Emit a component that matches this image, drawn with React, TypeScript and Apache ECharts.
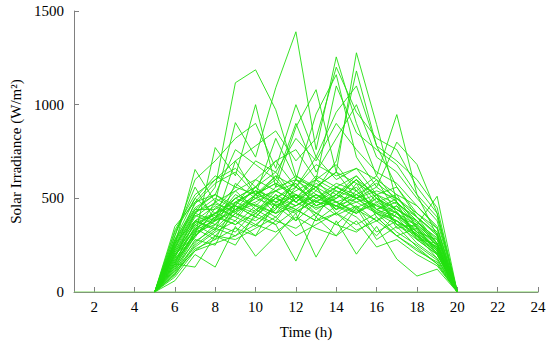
import React, { useEffect, useRef } from "react";
import * as echarts from "echarts";

const HOURS = [5, 6, 7, 8, 9, 10, 11, 12, 13, 14, 15, 16, 17, 18, 19, 20];
const X_TICKS = [2, 4, 6, 8, 10, 12, 14, 16, 18, 20, 22, 24];
const ZERO_LINE_X = [1, 24];

// irradiance (W/m²) at hours 6..19 for each day; 0 at 5 h and 20 h
const day01 = [180, 420, 560, 1117, 1186, 973, 620, 540, 700, 1180, 780, 560, 400, 260];
const day02 = [250, 654, 480, 904, 720, 1090, 1389, 760, 1255, 900, 620, 947, 520, 300];
const day03 = [120, 300, 771, 620, 1000, 560, 880, 1080, 640, 1277, 894, 480, 350, 200];
const day04 = [300, 560, 380, 700, 520, 820, 600, 950, 1160, 720, 560, 800, 681, 420];
const day05 = [90, 250, 330, 420, 380, 450, 520, 480, 560, 500, 430, 380, 300, 180];
const day06 = [200, 360, 420, 480, 540, 440, 600, 560, 500, 600, 480, 420, 360, 511];
const day07 = [150, 133, 300, 250, 420, 360, 165, 400, 300, 450, 280, 350, 240, 150];
const day08 = [350, 480, 520, 440, 560, 640, 500, 600, 680, 540, 620, 480, 380, 260];
const day09 = [60, 200, 133, 350, 191, 300, 420, 186, 380, 202, 350, 176, 85, 122];
const day10 = [220, 400, 480, 540, 440, 500, 580, 460, 520, 600, 440, 500, 400, 300];
const day11 = [160, 350, 420, 380, 520, 600, 480, 560, 420, 500, 600, 420, 300, 240];
const day12 = [280, 500, 620, 560, 700, 640, 820, 700, 900, 760, 640, 580, 460, 340];
const day13 = [110, 280, 250, 460, 400, 520, 380, 600, 480, 420, 520, 360, 280, 200];
const day14 = [240, 420, 380, 500, 560, 460, 520, 400, 560, 500, 420, 460, 340, 250];
const day15 = [130, 320, 480, 420, 360, 440, 600, 520, 440, 580, 400, 300, 340, 220];
const day16 = [210, 380, 330, 580, 500, 620, 480, 560, 640, 500, 560, 480, 280, 260];
const day17 = [80, 220, 300, 280, 340, 400, 300, 360, 420, 330, 380, 300, 220, 160];
const day18 = [270, 440, 520, 760, 680, 600, 900, 640, 820, 1000, 720, 640, 500, 380];
const day19 = [190, 340, 400, 460, 420, 520, 460, 520, 480, 420, 500, 440, 380, 280];
const day20 = [140, 300, 380, 440, 520, 420, 460, 540, 480, 520, 440, 400, 280, 200];
const day21 = [320, 500, 420, 540, 600, 700, 560, 720, 600, 660, 520, 560, 420, 340];
const day22 = [100, 260, 360, 320, 440, 380, 520, 420, 360, 460, 320, 380, 260, 180];
const day23 = [230, 480, 600, 660, 560, 700, 760, 600, 1100, 850, 760, 680, 520, 400];
const day24 = [170, 340, 280, 480, 540, 460, 420, 500, 560, 620, 500, 440, 380, 240];
const day25 = [260, 380, 460, 400, 520, 480, 540, 600, 540, 500, 540, 500, 400, 310];
const day26 = [120, 240, 320, 380, 300, 480, 440, 380, 460, 400, 300, 420, 320, 220];
const day27 = [300, 600, 700, 820, 900, 660, 1000, 720, 960, 1100, 780, 700, 600, 450];
const day28 = [150, 380, 340, 440, 480, 540, 580, 460, 520, 480, 520, 340, 360, 260];
const day29 = [200, 300, 400, 500, 460, 560, 600, 500, 580, 540, 440, 480, 380, 260];
const day30 = [240, 420, 500, 440, 500, 540, 480, 580, 520, 620, 500, 420, 320, 280];
const day31 = [180, 300, 400, 360, 420, 500, 460, 520, 440, 480, 420, 360, 300, 220];
const day32 = [330, 520, 600, 700, 780, 860, 700, 820, 1200, 960, 820, 760, 560, 420];
const day33 = [110, 220, 260, 300, 360, 320, 400, 340, 300, 380, 240, 280, 200, 140];
const day34 = [260, 440, 440, 560, 520, 580, 500, 620, 560, 520, 580, 500, 420, 320];
const day35 = [140, 330, 420, 460, 400, 500, 560, 480, 460, 500, 460, 400, 360, 260];
const day36 = [220, 380, 420, 500, 560, 480, 520, 440, 500, 560, 420, 380, 310, 240];
const day37 = [200, 330, 380, 430, 470, 420, 500, 450, 480, 430, 470, 400, 320, 230];
const day38 = [170, 290, 450, 400, 350, 470, 430, 490, 410, 460, 380, 430, 300, 210];
const day39 = [230, 410, 360, 480, 430, 540, 480, 420, 520, 450, 500, 360, 350, 250];
const day40 = [130, 270, 340, 300, 400, 360, 440, 380, 420, 360, 420, 320, 250, 170];
const day41 = [280, 450, 520, 460, 600, 540, 620, 560, 640, 580, 520, 470, 400, 310];
const day42 = [160, 310, 390, 520, 460, 400, 500, 560, 440, 520, 460, 420, 330, 230];
const day43 = [210, 360, 300, 420, 500, 460, 380, 480, 540, 440, 380, 460, 290, 210];
const day44 = [250, 430, 470, 430, 520, 580, 520, 460, 500, 600, 520, 440, 370, 290];
const day45 = [95, 230, 280, 340, 300, 380, 340, 420, 360, 320, 400, 300, 230, 150];
const day46 = [190, 370, 410, 360, 460, 420, 560, 500, 460, 420, 480, 520, 340, 230];
const day47 = [270, 470, 580, 640, 520, 620, 560, 680, 620, 660, 600, 520, 460, 350];
const day48 = [150, 320, 360, 470, 540, 500, 440, 520, 460, 540, 440, 380, 310, 200];

const DAYS = [
  day01, day02, day03, day04, day05, day06, day07, day08, day09, day10, day11, day12,
  day13, day14, day15, day16, day17, day18, day19, day20, day21, day22, day23, day24,
  day25, day26, day27, day28, day29, day30, day31, day32, day33, day34, day35, day36,
  day37, day38, day39, day40, day41, day42, day43, day44, day45, day46, day47, day48,
];

const LINE_COLOR = "#22e010";
const AXIS_COLOR = "#808080";
const FONT = "Liberation Serif";

export default function App() {
  const ref = useRef<HTMLDivElement>(null);
  useEffect(() => {
    if (!ref.current) return;
    const chart = echarts.init(ref.current, undefined, { renderer: "svg" });
    const series: any[] = [
      {
        type: "line",
        data: ZERO_LINE_X.map((x) => [x, 0]),
        symbol: "none",
        lineStyle: { color: "#7fd860", width: 1 },
        silent: true,
      },
    ];
    DAYS.forEach((d, i) => {
      const vals = [0, ...d, 0];
      series.push({
        type: "line",
        name: "day" + (i + 1),
        data: HOURS.map((h, j) => [h, vals[j]]),
        symbol: "none",
        lineStyle: { color: LINE_COLOR, width: 0.9 },
        silent: true,
      });
    });
    chart.setOption({
      animation: false,
      backgroundColor: "#ffffff",
      textStyle: { fontFamily: FONT },
      grid: { left: 73, right: 12, top: 11, bottom: 51 },
      xAxis: {
        type: "value",
        min: 1,
        max: 24,
        name: "Time (h)",
        nameLocation: "middle",
        nameGap: 32,
        nameTextStyle: { fontFamily: FONT, fontSize: 15, color: "#000" },
        axisLine: { show: true, lineStyle: { color: AXIS_COLOR, width: 1 } },
        axisTick: {
          show: true,
          inside: true,
          length: 5,
          customValues: X_TICKS,
          lineStyle: { color: AXIS_COLOR },
        },
        axisLabel: {
          customValues: X_TICKS,
          fontFamily: FONT,
          fontSize: 15,
          color: "#000",
          margin: 7,
          formatter: (v: number) => String(v),
        },
        splitLine: { show: false },
      },
      yAxis: {
        type: "value",
        min: 0,
        max: 1500,
        interval: 500,
        name: "Solar Irradiance (W/m²)",
        nameLocation: "middle",
        nameGap: 51,
        nameTextStyle: { fontFamily: FONT, fontSize: 15, color: "#000" },
        axisLine: { show: true, lineStyle: { color: AXIS_COLOR, width: 1 } },
        axisTick: { show: true, inside: true, length: 5, lineStyle: { color: AXIS_COLOR } },
        axisLabel: {
          fontFamily: FONT,
          fontSize: 15,
          color: "#000",
          margin: 10,
          formatter: (v: number) => String(v),
        },
        splitLine: { show: false },
      },
      series,
    });
    return () => chart.dispose();
  }, []);
  return <div ref={ref} style={{ width: 550, height: 344, position: "absolute", left: 0, top: 0 }} />;
}
